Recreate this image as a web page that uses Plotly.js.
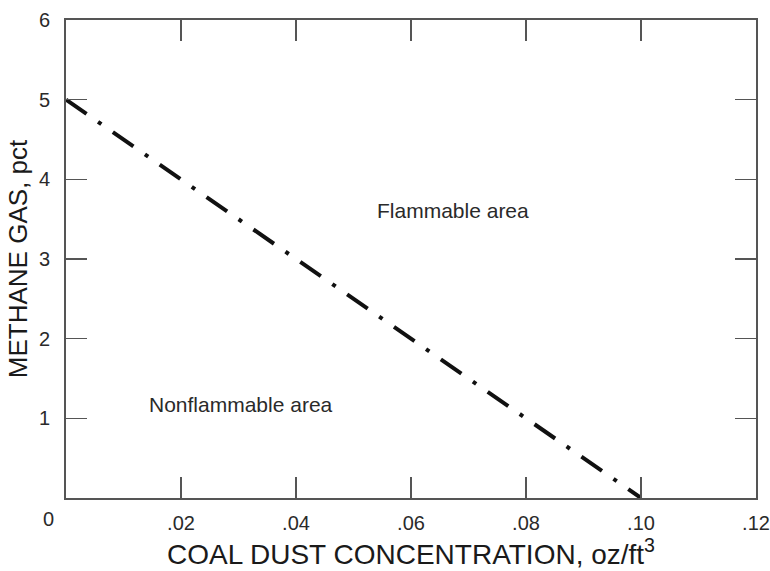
<!DOCTYPE html>
<html>
<head>
<meta charset="utf-8">
<script src="https://cdn.plot.ly/plotly-3.0.1.min.js"></script>
<style>html,body{margin:0;padding:0;background:#fff;}#chart{width:770px;height:571px;}</style>
</head>
<body>
<div id="chart"></div>
<script>
// Data
const coalDust = [0, 0.10];      // oz/ft^3
const methane = [5, 0];          // pct
const xTickVals = [0.02, 0.04, 0.06, 0.08, 0.10, 0.12];
const xTickText = ['.02', '.04', '.06', '.08', '.10', '.12'];
const yTickVals = [1, 2, 3, 4, 5, 6];
const yTickText = ['1', '2', '3', '4', '5', '6'];
const areaLabels = ['Flammable area', 'Nonflammable area'];
const areaX = [0.0673, 0.0305];
const areaY = [3.61, 1.17];

const FONT = 'Liberation Sans, Arial, sans-serif';
const axisCommon = {
  showline: true, linecolor: '#555', linewidth: 2,
  mirror: 'ticks', ticks: 'inside', ticklen: 21, tickwidth: 1.6, tickcolor: '#555',
  showgrid: false, zeroline: false,
  tickfont: {family: FONT, size: 20, color: '#2a2a2a'},
  tickmode: 'array'
};

const trace = {
  x: coalDust, y: methane, mode: 'lines', type: 'scatter',
  line: {color: '#111', width: 4, dash: '25px,14px,4px,14px'},
  hoverinfo: 'skip', cliponaxis: false
};

const annotations = areaLabels.map((t, i) => ({
  x: areaX[i], y: areaY[i], xref: 'x', yref: 'y', text: t, showarrow: false,
  font: {family: FONT, size: 21, color: '#2a2a2a'}, xanchor: 'center', yanchor: 'middle'
}));
annotations.push({
  x: 0, y: 0, xref: 'x', yref: 'y', text: '0', showarrow: false,
  font: {family: FONT, size: 20, color: '#2a2a2a'}, xanchor: 'center', yanchor: 'top',
  xshift: -18, yshift: -8
});

const layout = {
  width: 770, height: 571,
  margin: {l: 66, r: 14, t: 20, b: 73},
  paper_bgcolor: '#fff', plot_bgcolor: '#fff',
  showlegend: false,
  xaxis: Object.assign({}, axisCommon, {
    range: [0, 0.12], tickvals: xTickVals, ticktext: xTickText,
    ticklabelstandoff: 6,
    title: {text: 'COAL DUST CONCENTRATION, oz/ft<sup>3</sup>', font: {family: FONT, size: 28, color: '#1a1a1a'}, standoff: 4}
  }),
  yaxis: Object.assign({}, axisCommon, {
    range: [0, 6], tickvals: yTickVals, ticktext: yTickText,
    ticklabelstandoff: 10,
    title: {text: 'METHANE GAS, pct', font: {family: FONT, size: 26, color: '#1a1a1a'}, standoff: 4}
  }),
  annotations: annotations
};

Plotly.newPlot('chart', [trace], layout, {staticPlot: true, displayModeBar: false});
</script>
</body>
</html>
